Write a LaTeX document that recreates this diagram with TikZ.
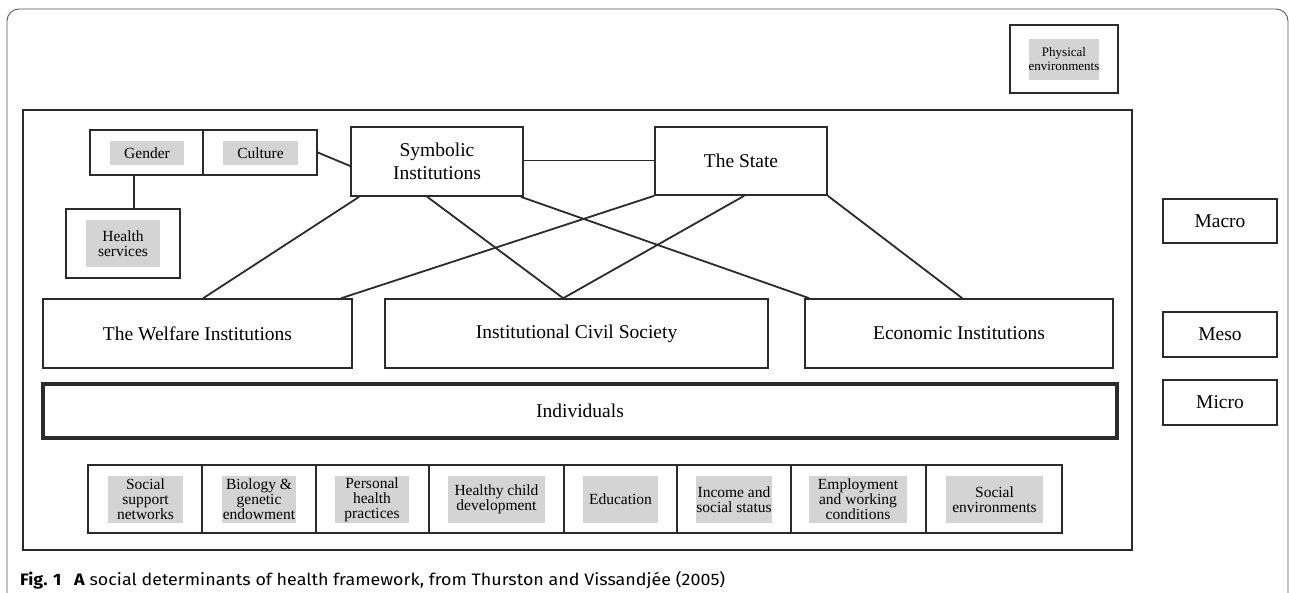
\documentclass[tikz,border=0pt]{standalone}
\usepackage{fontspec}
\setmainfont{Liberation Serif}
\newfontfamily\capfont{Fira Sans}
\usetikzlibrary{calc}
\definecolor{ink}{HTML}{2B2B2B}
\definecolor{shade}{HTML}{D4D4D4}
\definecolor{framec}{HTML}{5A5A5A}
\begin{document}
\begin{tikzpicture}[x=1pt,y=-1pt,
  box/.style={draw=ink, line width=1.6pt, inner sep=0pt, align=center, font=\fontsize{19.5}{23}\selectfont},
  tag/.style={fill=shade, inner sep=0pt, align=center, font=\fontsize{15.5}{15}\selectfont},
  link/.style={draw=ink, line width=1.8pt}]
\useasboundingbox (0,0) rectangle (1289,592);
\clip (0,0) rectangle (1289,592);
\fill[white] (0,0) rectangle (1289,592);
\draw[framec, line width=0.9pt, rounded corners=12pt] (7,9) rectangle (1288,660);

% main frame
\node[box, minimum width=1109pt, minimum height=440pt] (main) at (577.5,330) {};

% physical environments
\node[box, minimum width=108pt, minimum height=68pt] (phys) at (1064,59) {};
\node[tag, minimum width=62pt, minimum height=41pt, font=\fontsize{13}{13.5}\selectfont] (physt) at (phys.center) {Physical\\environments};

% gender / culture
\node[box, minimum width=113pt, minimum height=45pt] (gen) at (146.5,152.5) {};
\node[box, minimum width=114pt, minimum height=45pt] (cul) at (260,152.5) {};
\node[tag, minimum width=74pt, minimum height=24pt] (gent) at (147,153) {Gender};
\node[tag, minimum width=75pt, minimum height=24pt] (cult) at (260.5,153) {Culture};

% health services
\node[box, minimum width=114pt, minimum height=69pt] (hs) at (123,243.5) {};
\node[tag, minimum width=74pt, minimum height=47pt] (hst) at (hs.center) {Health\\services};

% macro institutions
\node[box, minimum width=172pt, minimum height=69pt] (sym) at (437,161.5) {Symbolic\\Institutions};
\node[box, minimum width=172pt, minimum height=68pt] (state) at (741,161) {The State};

% meso
\node[box, minimum width=309pt, minimum height=69pt] (wel) at (197.5,333.5) {The Welfare Institutions};
\node[box, minimum width=383pt, minimum height=69pt] (civ) at (576.5,333.5) {Institutional Civil Society};
\node[box, minimum width=308pt, minimum height=69pt] (eco) at (959,333.5) {Economic Institutions};

% micro
\node[box, line width=3.2pt, minimum width=1074pt, minimum height=54pt] (ind) at (580,411) {Individuals};

% levels
\node[box, minimum width=114pt, minimum height=44pt] (macro) at (1220,221) {Macro};
\node[box, minimum width=114pt, minimum height=45pt] (meso) at (1220,334.5) {Meso};
\node[box, minimum width=114pt, minimum height=45pt] (micro) at (1220,402.5) {Micro};

% determinants strip
\node[box, minimum width=114pt, minimum height=68pt] (c1) at (145,499) {};
\node[box, minimum width=114pt, minimum height=68pt] (c2) at (259,499) {};
\node[box, minimum width=113pt, minimum height=68pt] (c3) at (372.5,499) {};
\node[box, minimum width=135pt, minimum height=68pt] (c4) at (496.5,499) {};
\node[box, minimum width=113pt, minimum height=68pt] (c5) at (620.5,499) {};
\node[box, minimum width=114pt, minimum height=68pt] (c6) at (734,499) {};
\node[box, minimum width=135pt, minimum height=68pt] (c7) at (858.5,499) {};
\node[box, minimum width=136pt, minimum height=68pt] (c8) at (994,499) {};
\node[tag, minimum width=75pt, minimum height=47pt] (t1) at (145.5,499.5) {Social\\support\\networks};
\node[tag, minimum width=74pt, minimum height=47pt] (t2) at (259,499.5) {Biology \&\\genetic\\endowment};
\node[tag, minimum width=74pt, minimum height=47pt] (t3) at (372,499.5) {Personal\\health\\practices};
\node[tag, minimum width=97pt, minimum height=47pt] (t4) at (496.5,499.5) {Healthy child\\development};
\node[tag, minimum width=75pt, minimum height=47pt] (t5) at (620.5,499.5) {Education};
\node[tag, minimum width=74pt, minimum height=47pt] (t6) at (734,499.5) {Income and\\social status};
\node[tag, minimum width=98pt, minimum height=47pt] (t7) at (858,499.5) {Employment\\and working\\conditions};
\node[tag, minimum width=97pt, minimum height=47pt] (t8) at (994.5,499.5) {Social\\environments};

% connectors
\draw[link] ([xshift=45pt]gen.south west) -- ([xshift=69pt]hs.north west);
\draw[link] (cul.east) -- ([yshift=-4.5pt]sym.west);
\draw[link] ([yshift=1pt]sym.east) -- ([yshift=1pt]sym.east -| state.west);
\draw[link] ([xshift=9pt]sym.south west) -- ([xshift=161pt]wel.north west);
\draw[link] ([xshift=77pt]sym.south west) -- ([xshift=179pt]civ.north west);
\draw[link] ([xshift=-3pt]sym.south east) -- ([xshift=5pt]eco.north west);
\draw[link] (state.south west) -- ([xshift=299pt]wel.north west);
\draw[link] ([xshift=90pt]state.south west) -- ([xshift=179pt]civ.north west);
\draw[link] (state.south east) -- ([xshift=158pt]eco.north west);

% caption
\node[anchor=base west, inner sep=0pt] (cap) at (20,585) {\resizebox{705pt}{14pt}{\capfont\textbf{Fig. 1}\hspace{0.7em}\textbf{A} social determinants of health framework, from Thurston and Vissandjée (2005)}};
\end{tikzpicture}
\end{document}
